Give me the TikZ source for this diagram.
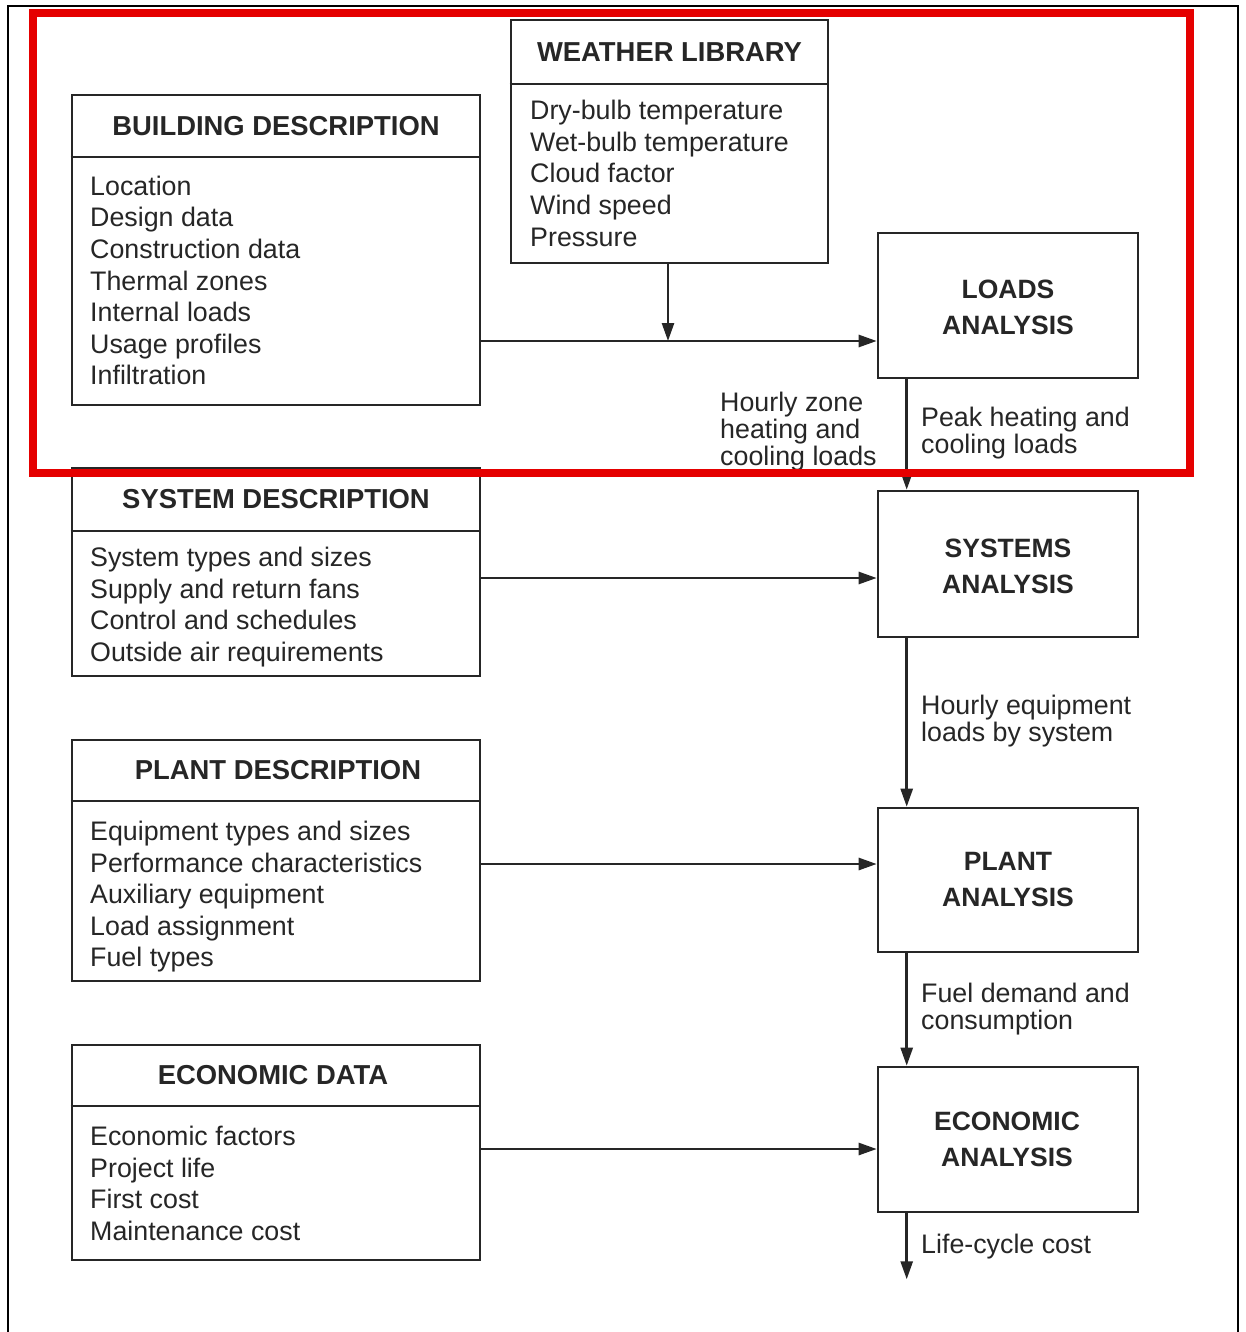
\documentclass[tikz,border=0pt]{standalone}
\usepackage{fontspec}
\setmainfont{Liberation Sans}
\usetikzlibrary{arrows.meta}
\begin{document}
\begin{tikzpicture}[x=1pt,y=-1pt,
  ink/.style={black!85},
  box/.style={draw=black!85,line width=2.6pt,rectangle,inner sep=0pt},
  head/.style={ink,font=\fontsize{27.4}{30}\selectfont\bfseries},
  anl/.style={ink,align=center,font=\fontsize{26.5}{36}\selectfont\bfseries},
  bodytxt/.style={ink,anchor=base west,inner sep=0pt,font=\fontsize{26.8}{31.5}\selectfont},
  lbl/.style={ink,anchor=base west,inner sep=0pt,font=\fontsize{26.8}{27}\selectfont},
  arr/.style={draw=black!85,line width=2.6pt,-{Triangle[length=18pt,width=12pt]}},
  ln/.style={draw=black!85,line width=2.6pt}
]
\useasboundingbox (0,0) rectangle (1245,1332);
\fill[white] (0,0) rectangle (1245,1332);

% outer frame (open at the bottom)
\draw[black,line width=2.4pt] (8,1332) -- (8,6) -- (1238,6) -- (1238,1332);

% ---- input boxes on the left / top ----
\node[box,minimum width=408pt,minimum height=310pt] (bd) at (276,250) {};
\draw[ln] (bd.west |- 0,157) -- (bd.east |- 0,157);
\node[head] (bdh) at (276,126) {BUILDING DESCRIPTION};
\foreach \t [count=\i] in {Location,Design data,Construction data,Thermal zones,Internal loads,Usage profiles,Infiltration}
  \node[bodytxt] (bdl\i) at (90,{195.5+31.5*(\i-1)}) {\t};

\node[box,minimum width=317pt,minimum height=243pt] (wl) at (669.5,141.5) {};
\draw[ln] (wl.west |- 0,84) -- (wl.east |- 0,84);
\node[head] (wlh) at (669.5,52) {WEATHER LIBRARY};
\foreach \t [count=\i] in {Dry-bulb temperature,Wet-bulb temperature,Cloud factor,Wind speed,Pressure}
  \node[bodytxt] (wll\i) at (530,{119.5+31.7*(\i-1)}) {\t};

\node[box,minimum width=408pt,minimum height=208pt] (sd) at (276,572) {};
\draw[ln] (sd.west |- 0,531) -- (sd.east |- 0,531);
\node[head] (sdh) at (276,499.5) {SYSTEM DESCRIPTION};
\foreach \t [count=\i] in {System types and sizes,Supply and return fans,Control and schedules,Outside air requirements}
  \node[bodytxt] (sdl\i) at (90,{566.5+31.7*(\i-1)}) {\t};

\node[box,minimum width=408pt,minimum height=241pt] (pd) at (276,860.5) {};
\draw[ln] (pd.west |- 0,801) -- (pd.east |- 0,801);
\node[head] (pdh) at (278,770.5) {PLANT DESCRIPTION};
\foreach \t [count=\i] in {Equipment types and sizes,Performance characteristics,Auxiliary equipment,Load assignment,Fuel types}
  \node[bodytxt] (pdl\i) at (90,{840.5+31.6*(\i-1)}) {\t};

\node[box,minimum width=408pt,minimum height=215pt] (ed) at (276,1152.5) {};
\draw[ln] (ed.west |- 0,1106) -- (ed.east |- 0,1106);
\node[head] (edh) at (273,1075.5) {ECONOMIC DATA};
\foreach \t [count=\i] in {Economic factors,Project life,First cost,Maintenance cost}
  \node[bodytxt] (edl\i) at (90,{1145.5+31.5*(\i-1)}) {\t};

% ---- analysis chain on the right ----
\node[box,minimum width=260pt,minimum height=145pt] (la) at (1008,305.5) {};
\node[anl] (lat) at (1008,307.5) {LOADS\\ANALYSIS};
\node[box,minimum width=260pt,minimum height=146pt] (sa) at (1008,564) {};
\node[anl] (sat) at (1008,566) {SYSTEMS\\ANALYSIS};
\node[box,minimum width=260pt,minimum height=144pt] (pa) at (1008,880) {};
\node[anl] (pat) at (1008,879.5) {PLANT\\ANALYSIS};
\node[box,minimum width=260pt,minimum height=145pt] (ea) at (1008,1139.5) {};
\node[anl] (eat) at (1007,1139) {ECONOMIC\\ANALYSIS};

% ---- connectors ----
\coordinate (wj) at (668,341);
\draw[arr] (wl.south -| wj) -- (wj);
\draw[arr] (bd.east |- 0,341) -- (la.west |- 0,341);
\draw[arr] (sd.east |- 0,578) -- (sa.west |- 0,578);
\draw[arr] (pd.east |- 0,864) -- (pa.west |- 0,864);
\draw[arr] (ed.east |- 0,1149) -- (ea.west |- 0,1149);

\draw[arr] ([xshift=30pt]la.south west) -- ([xshift=30pt]sa.north west);
\draw[arr] ([xshift=30pt]sa.south west) -- ([xshift=30pt]pa.north west);
\draw[arr] ([xshift=30pt]pa.south west) -- ([xshift=30pt]ea.north west);
\coordinate (lc) at ([xshift=30pt,yshift=-66pt]ea.south west);
\draw[arr] ([xshift=30pt]ea.south west) -- (lc);

% ---- flow labels ----
\node[lbl] (hz1) at (720,411) {Hourly zone};
\node[lbl] (hz2) at (720,438) {heating and};
\node[lbl] (hz3) at (720,465) {cooling loads};
\node[lbl] (pk1) at (921,426) {Peak heating and};
\node[lbl] (pk2) at (921,453) {cooling loads};
\node[lbl] (he1) at (921,714) {Hourly equipment};
\node[lbl] (he2) at (921,741) {loads by system};
\node[lbl] (fd1) at (921,1002) {Fuel demand and};
\node[lbl] (fd2) at (921,1029) {consumption};
\node[lbl] (lcc) at (921,1253) {Life-cycle cost};

% ---- highlight frame over the upper part ----
\draw[red!90!black,line width=8pt] (33,13) rectangle (1190,473);
\end{tikzpicture}
\end{document}
